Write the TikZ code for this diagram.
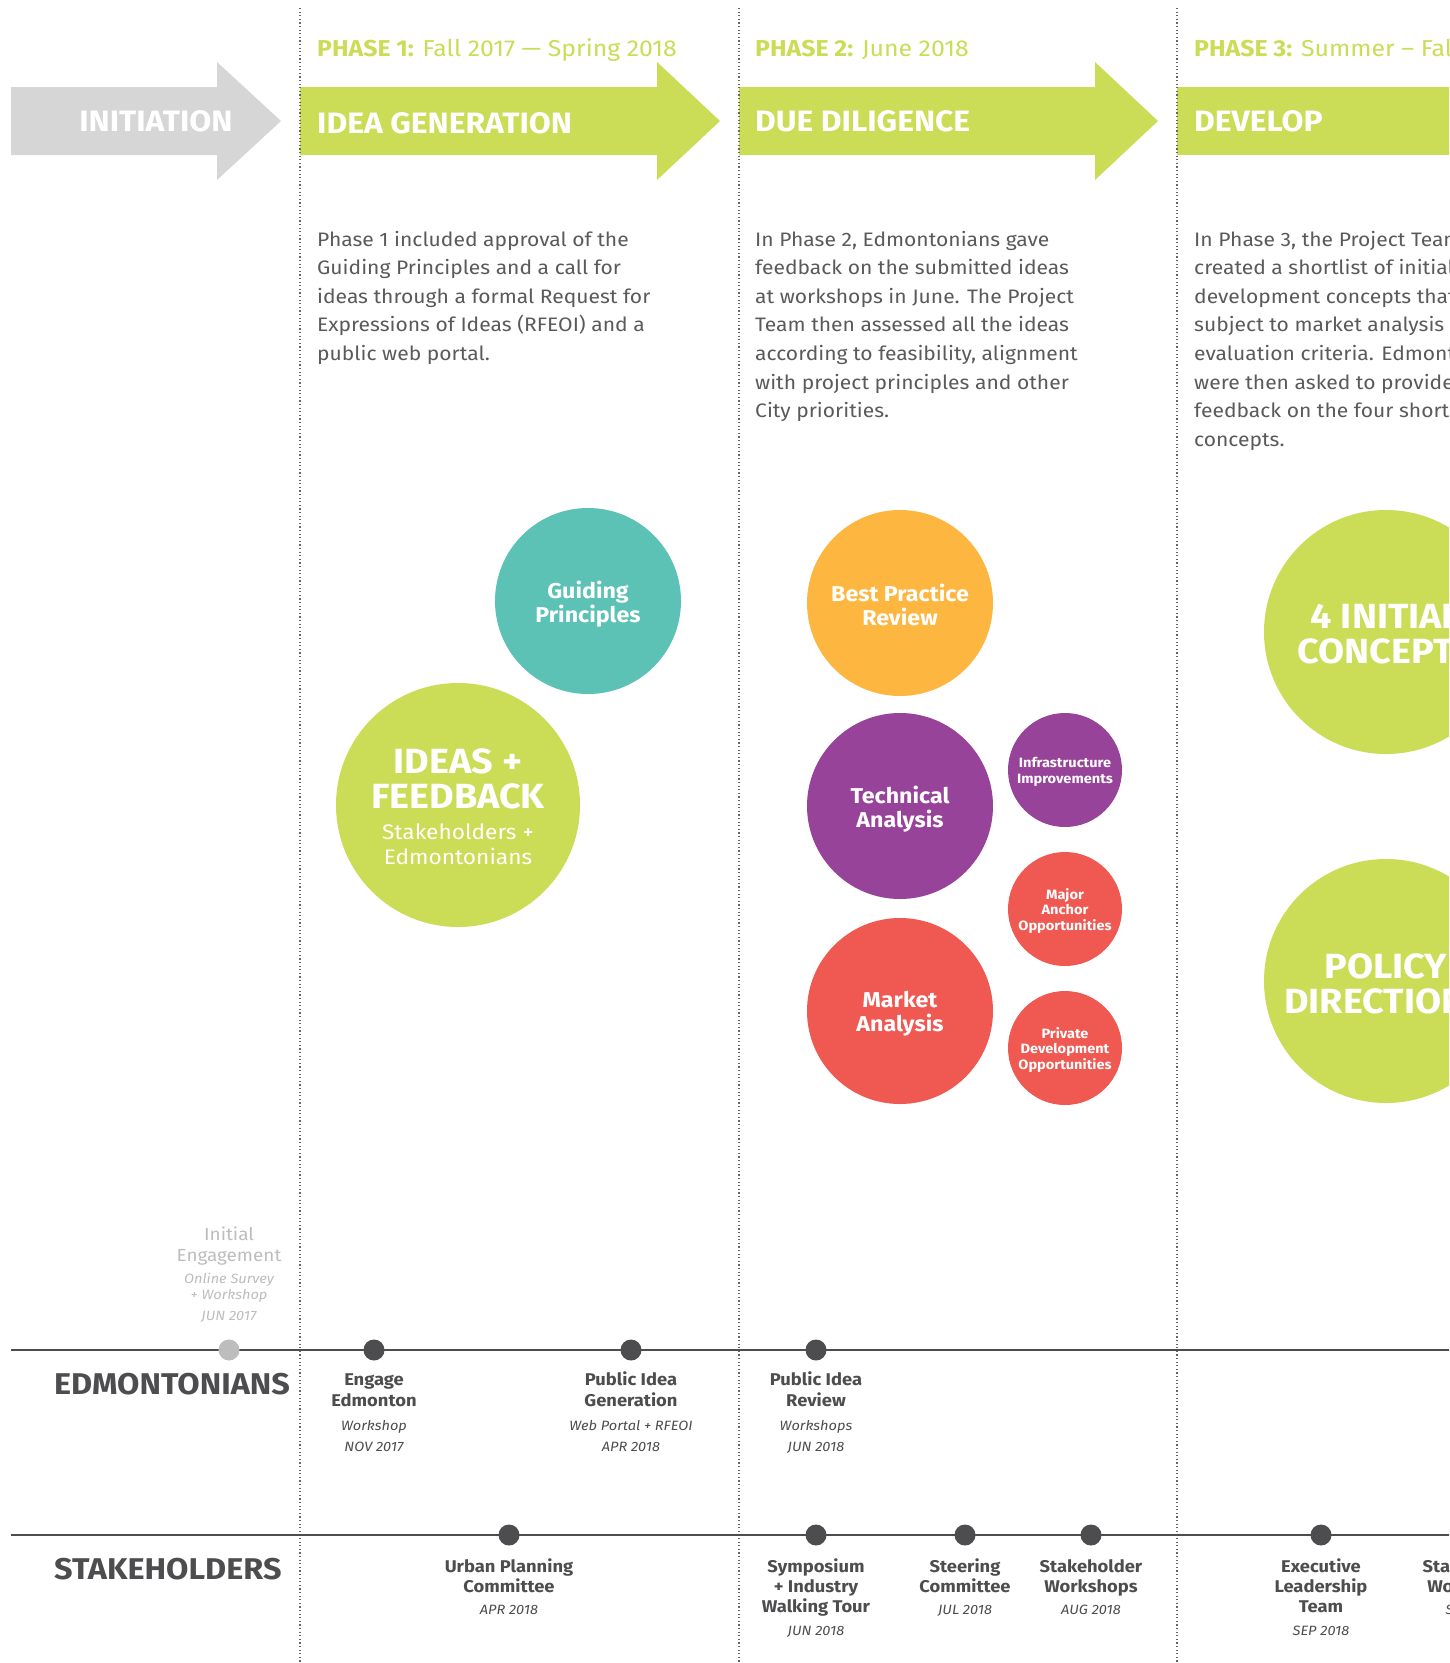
\documentclass[tikz,border=0pt]{standalone}
\usepackage{fontspec}
\setmainfont{Fira Sans}[FakeStretch=1.08]
\definecolor{lime}{HTML}{CBDC56}
\definecolor{arrgray}{HTML}{D6D6D6}
\definecolor{teal}{HTML}{5BC2B5}
\definecolor{orng}{HTML}{FDB740}
\definecolor{purp}{HTML}{974399}
\definecolor{redc}{HTML}{F05852}
\definecolor{paragray}{HTML}{5A5A5C}
\definecolor{dark}{HTML}{4D4D4F}
\definecolor{light}{HTML}{BDBDBD}
\tikzset{
  para/.style={anchor=base west, text=paragray, inner sep=0, font=\fontsize{19.5}{24}\selectfont},
  phase/.style={anchor=base west, text=lime, inner sep=0, font=\fontsize{23}{26}\selectfont},
  bartitle/.style={anchor=base west, text=white, inner sep=0, font=\bfseries\fontsize{29.5}{32}\selectfont},
  bubble/.style={circle, inner sep=0, draw=none},
  btext/.style={text=white, align=center, inner sep=0, font=\bfseries\fontsize{21.5}{24}\selectfont},
  bigtext/.style={text=white, align=center, inner sep=0, font=\bfseries\fontsize{35}{35}\selectfont},
  subtext/.style={text=white, align=center, inner sep=0, font=\fontsize{21}{25}\selectfont},
  smalltext/.style={text=white, align=center, inner sep=0, font=\bfseries\fontsize{13.5}{15.5}\selectfont},
  rowlabel/.style={anchor=base west, text=dark, inner sep=0, font=\bfseries\fontsize{30}{32}\selectfont},
  evt/.style={anchor=base, text=dark, inner sep=0, font=\bfseries\fontsize{17}{20}\selectfont},
  evtdate/.style={anchor=base, text=dark, inner sep=0, font=\itshape\fontsize{13.5}{16}\selectfont},
  dot/.style={circle, fill=dark, minimum size=21pt, inner sep=0},
  ldot/.style={circle, fill=light, minimum size=21pt, inner sep=0},
  sep/.style={draw=gray!80!black, line width=1.2pt, dash pattern=on 1.2pt off 2.4pt},
  tline/.style={draw=dark, line width=1.6pt}
}
\begin{document}
\begin{tikzpicture}[x=1pt,y=-1pt]
\useasboundingbox (0,0) rectangle (1449,1663);
\clip (0,0) rectangle (1449,1663);
\fill[white] (0,0) rectangle (1449,1663);

% arrows
\fill[arrgray] (11,87) -- (217,87) -- (217,62) -- (281,121) -- (217,180) -- (217,155) -- (11,155) -- cycle;
\fill[lime] (300,87) -- (657,87) -- (657,62) -- (720,121) -- (657,180) -- (657,155) -- (300,155) -- cycle;
\fill[lime] (739,87) -- (1095,87) -- (1095,62) -- (1158,121) -- (1095,180) -- (1095,155) -- (739,155) -- cycle;
\fill[lime] (1177,87) rectangle (1460,155);

% separators
\coordinate (s1t) at (300,8); \coordinate (s1b) at (300,1663);
\coordinate (s2t) at (739,8); \coordinate (s2b) at (739,1663);
\coordinate (s3t) at (1177,8); \coordinate (s3b) at (1177,1663);
\draw[sep] (s1t) -- (s1b);
\draw[sep] (s2t) -- (s2b);
\draw[sep] (s3t) -- (s3b);

% arrow titles
\node[bartitle, anchor=base] (tinit) at (156,131) {INITIATION};
\node[bartitle] (tidea) at (317,133) {IDEA GENERATION};
\node[bartitle] (tdue) at (755,131) {DUE DILIGENCE};
\node[bartitle] (tdev) at (1194,131) {DEVELOP};

% phase headers
\node[phase] (ph1) at (317,56) {\textbf{PHASE 1:} Fall 2017 — Spring 2018};
\node[phase] (ph2) at (755,56) {\textbf{PHASE 2:} June 2018};
\node[phase] (ph3) at (1194,56) {\textbf{PHASE 3:} Summer – Fall 2018};

% paragraphs
\foreach \t [count=\i from 0] in {{Phase 1 included approval of the},{Guiding Principles and a call for},{ideas through a formal Request for},{Expressions of Ideas (RFEOI) and a},{public web portal.}}
  \node[para] (pa\i) at (317,246+28.6*\i) {\t};
\foreach \t [count=\i from 0] in {{In Phase 2, Edmontonians gave},{feedback on the submitted ideas},{at workshops in June. The Project},{Team then assessed all the ideas},{according to feasibility, alignment},{with project principles and other},{City priorities.}}
  \node[para] (pb\i) at (755,246+28.6*\i) {\t};
\foreach \t [count=\i from 0] in {{In Phase 3, the Project Team},{created a shortlist of initial},{development concepts that were},{subject to market analysis and},{evaluation criteria. Edmontonians},{were then asked to provide},{feedback on the four shortlisted},{concepts.}}
  \node[para] (pc\i) at (1194,246+28.6*\i) {\t};

% bubbles
\node[bubble, fill=teal, minimum size=186pt] (cgp) at (588,601) {};
\node[btext] (tgp) at (588,604) {Guiding\\Principles};
\node[bubble, fill=lime, minimum size=244pt] (cif) at (458,805) {};
\node[bigtext] (tif) at (458,779) {IDEAS +\\FEEDBACK};
\node[subtext] (tif2) at (458,844) {Stakeholders +\\Edmontonians};

\node[bubble, fill=orng, minimum size=186pt] (cbp) at (900,603) {};
\node[btext] (tbp) at (900,605) {Best Practice\\Review};
\node[bubble, fill=purp, minimum size=186pt] (cta) at (900,806) {};
\node[btext] (tta) at (900,809) {Technical\\Analysis};
\node[bubble, fill=redc, minimum size=186pt] (cma) at (900,1011) {};
\node[btext] (tma) at (900,1014) {Market\\Analysis};

\node[bubble, fill=purp, minimum size=114pt] (cii) at (1065,770) {};
\node[smalltext] (tii) at (1065,772) {Infrastructure\\Improvements};
\node[bubble, fill=redc, minimum size=114pt] (cmo) at (1065,909) {};
\node[smalltext] (tmo) at (1065,911) {Major\\Anchor\\Opportunities};
\node[bubble, fill=redc, minimum size=114pt] (cpd) at (1065,1048) {};
\node[smalltext] (tpd) at (1065,1050) {Private\\Development\\Opportunities};

\node[bubble, fill=lime, minimum size=244pt] (cic) at (1386,632) {};
\node[bigtext] (tic) at (1386,634) {4 INITIAL\\CONCEPTS};
\node[bubble, fill=lime, minimum size=244pt] (cpo) at (1386,981) {};
\node[bigtext] (tpo) at (1386,984) {POLICY\\DIRECTIONS};

% timelines
\coordinate (e0) at (11,1350); \coordinate (e1) at (1460,1350);
\coordinate (k0) at (11,1535); \coordinate (k1) at (1460,1535);
\draw[tline] (e0) -- (e1);
\draw[tline] (k0) -- (k1);

\node[rowlabel] (redm) at (54,1394) {EDMONTONIANS};
\node[rowlabel] (rstk) at (54,1579) {STAKEHOLDERS};

% Edmontonians events
\node[ldot] (d0) at (229,1350) {};
\node[evt, text=light, font=\fontsize{17.5}{20}\selectfont] (ie1) at (229,1240) {Initial};
\node[evt, text=light, font=\fontsize{17.5}{20}\selectfont] (ie2) at (229,1261) {Engagement};
\node[evtdate, text=light] (ie3) at (229,1283) {Online Survey};
\node[evtdate, text=light] (ie4) at (229,1299) {+ Workshop};
\node[evtdate, text=light] (ie5) at (229,1320) {JUN 2017};

\node[dot] (d1) at (374,1350) {};
\node[evt] (ee1) at (374,1385) {Engage};
\node[evt] (ee2) at (374,1406) {Edmonton};
\node[evtdate] (ee3) at (374,1430) {Workshop};
\node[evtdate] (ee4) at (374,1451) {NOV 2017};

\node[dot] (d2) at (631,1350) {};
\node[evt] (pg1) at (631,1385) {Public Idea};
\node[evt] (pg2) at (631,1406) {Generation};
\node[evtdate] (pg3) at (631,1430) {Web Portal + RFEOI};
\node[evtdate] (pg4) at (631,1451) {APR 2018};

\node[dot] (d3) at (816,1350) {};
\node[evt] (pr1) at (816,1385) {Public Idea};
\node[evt] (pr2) at (816,1406) {Review};
\node[evtdate] (pr3) at (816,1430) {Workshops};
\node[evtdate] (pr4) at (816,1451) {JUN 2018};

% Stakeholders events
\node[dot] (k1d) at (509,1535) {};
\node[evt] (up1) at (509,1572) {Urban Planning};
\node[evt] (up2) at (509,1592) {Committee};
\node[evtdate] (up3) at (509,1614) {APR 2018};

\node[dot] (k2d) at (816,1535) {};
\node[evt] (sy1) at (816,1572) {Symposium};
\node[evt] (sy2) at (816,1592) {+ Industry};
\node[evt] (sy3) at (816,1612) {Walking Tour};
\node[evtdate] (sy4) at (816,1635) {JUN 2018};

\node[dot] (k3d) at (965,1535) {};
\node[evt] (sc1) at (965,1572) {Steering};
\node[evt] (sc2) at (965,1592) {Committee};
\node[evtdate] (sc3) at (965,1614) {JUL 2018};

\node[dot] (k4d) at (1091,1535) {};
\node[evt] (sw1) at (1091,1572) {Stakeholder};
\node[evt] (sw2) at (1091,1592) {Workshops};
\node[evtdate] (sw3) at (1091,1614) {AUG 2018};

\node[dot] (k5d) at (1321,1535) {};
\node[evt] (el1) at (1321,1572) {Executive};
\node[evt] (el2) at (1321,1592) {Leadership};
\node[evt] (el3) at (1321,1612) {Team};
\node[evtdate] (el4) at (1321,1635) {SEP 2018};

\node[dot] (k6d) at (1474,1535) {};
\node[evt] (sx1) at (1474,1572) {Stakeholder};
\node[evt] (sx2) at (1474,1592) {Workshops};
\node[evtdate] (sx3) at (1474,1614) {SEP 2018};
\end{tikzpicture}
\end{document}
